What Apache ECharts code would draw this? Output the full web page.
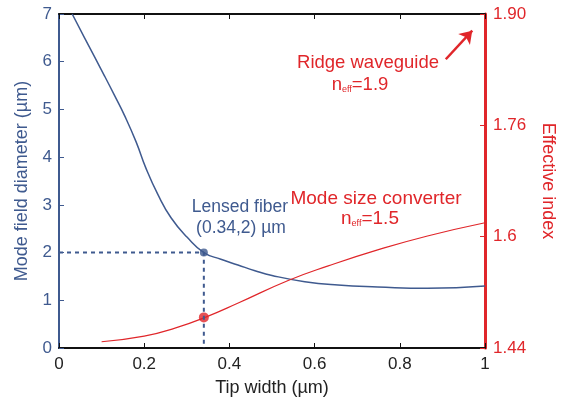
<!DOCTYPE html>
<html>
<head>
<meta charset="utf-8">
<script src="https://cdn.jsdelivr.net/npm/echarts@6/dist/echarts.min.js"></script>
<style>
    html, body {margin: 0; padding: 0; background: #fff;}
    #main {width: 565px; height: 402px;}
</style>
</head>
<body>
<div id="main"></div>
<script>
// mode field diameter (left axis, um) vs tip width (um)
var mfdX = [0.031, 0.06, 0.107, 0.13, 0.154, 0.181, 0.204, 0.232, 0.263, 0.301, 0.34, 0.38, 0.42, 0.46, 0.5, 0.577, 0.655, 0.748, 0.865, 1.0];
var mfdY = [7.0, 6.5, 5.70, 5.30, 4.87, 4.32, 3.77, 3.22, 2.73, 2.32, 2.0, 1.86, 1.74, 1.62, 1.52, 1.39, 1.32, 1.28, 1.25, 1.30];
// effective index (right axis) vs tip width
var neffX = [0.1, 0.2, 0.274, 0.343, 0.422, 0.538, 0.632, 0.748, 0.865, 1.0];
var neffY = [1.449, 1.457, 1.469, 1.484, 1.505, 1.537, 1.558, 1.581, 1.601, 1.62];
// lensed fiber point and converter point
var fiberPt = [0.34, 2];
var converterPt = [0.34, 1.484];
// arrow towards ridge waveguide index
var arrowFrom = [0.908, 1.855];
var arrowTo = [0.97, 1.896];
var rightTickLabels = ['1.44', '1.6', '1.76', '1.90'];

var BLUE = '#3f5a8f';
var RED = '#e0262a';
var FONT = 'Liberation Sans';

function pairs(xs, ys) {
    var out = [];
    for (var i = 0; i < xs.length; i++) {
        out.push([xs[i], ys[i]]);
    }
    return out;
}

var Chart = echarts.init(document.getElementById('main'));
var option = {
    backgroundColor: '#fff',
    animation: false,
    textStyle: {fontFamily: FONT},
    grid: {left: 59, right: 77, top: 14, bottom: 50},
    xAxis: [{
        type: 'value', min: 0, max: 1, interval: 0.2,
        name: 'Tip width (µm)', nameLocation: 'middle', nameGap: 31,
        nameTextStyle: {color: '#222', fontSize: 18, fontFamily: FONT},
        axisLine: {onZero: false, lineStyle: {color: '#111', width: 2}},
        axisTick: {inside: true, length: 5, lineStyle: {color: '#111'}},
        axisLabel: {color: '#222', fontSize: 17, margin: 8, fontFamily: FONT},
        splitLine: {show: false}
    }, {
        type: 'value', min: 0, max: 1, interval: 0.2, position: 'top',
        axisLine: {onZero: false, lineStyle: {color: '#111', width: 2}},
        axisTick: {inside: true, length: 5, lineStyle: {color: '#111'}},
        axisLabel: {show: false},
        splitLine: {show: false}
    }],
    yAxis: [{
        type: 'value', min: 0, max: 7, interval: 1,
        name: 'Mode field diameter (µm)', nameLocation: 'middle', nameGap: 28,
        nameTextStyle: {color: BLUE, fontSize: 18, fontFamily: FONT},
        axisLine: {show: true, onZero: false, lineStyle: {color: BLUE, width: 2}},
        axisTick: {show: true, inside: true, length: 5, lineStyle: {color: BLUE}},
        axisLabel: {color: BLUE, fontSize: 17, margin: 7, fontFamily: FONT},
        splitLine: {show: false}
    }, {
        type: 'value', min: 1.44, max: 1.92, interval: 0.16, position: 'right',
        name: 'Effective index', nameLocation: 'middle', nameGap: 54, nameRotate: -90,
        nameTextStyle: {color: RED, fontSize: 18, fontFamily: FONT},
        axisLine: {show: true, onZero: false, lineStyle: {color: RED, width: 3}},
        axisTick: {show: true, inside: true, length: 5, lineStyle: {color: RED}},
        axisLabel: {
            color: RED, fontSize: 17, margin: 8, fontFamily: FONT,
            formatter: function (v) {
                var i = Math.round((v - 1.44) / 0.16);
                return rightTickLabels[i];
            }
        },
        splitLine: {show: false}
    }],
    series: [{
        name: 'mfd', type: 'line', smooth: 0.5, showSymbol: false,
        data: pairs(mfdX, mfdY),
        lineStyle: {color: BLUE, width: 1.5}
    }, {
        name: 'neff', type: 'line', smooth: 0.5, showSymbol: false, yAxisIndex: 1,
        data: pairs(neffX, neffY),
        lineStyle: {color: RED, width: 1.2},
        markLine: {
            silent: true, symbol: ['none', 'arrow'], symbolSize: 12,
            label: {show: false},
            lineStyle: {color: RED, width: 2.5, type: 'solid'},
            data: [[{coord: arrowFrom}, {coord: arrowTo}]]
        }
    }, {
        name: 'guide', type: 'line', showSymbol: false,
        data: [[0, fiberPt[1]], fiberPt, [fiberPt[0], 0]],
        lineStyle: {color: BLUE, width: 2, type: [4, 4]}
    }, {
        name: 'fiber', type: 'scatter', symbolSize: 8,
        data: [fiberPt], itemStyle: {color: BLUE}
    }, {
        name: 'converter', type: 'scatter', symbolSize: 10, yAxisIndex: 1,
        data: [converterPt], itemStyle: {color: RED}
    }],
    graphic: [{
        type: 'text', x: 240, y: 207,
        style: {text: 'Lensed fiber', fill: BLUE, font: '17.5px ' + FONT, align: 'center', verticalAlign: 'middle'}
    }, {
        type: 'text', x: 241, y: 228,
        style: {text: '(0.34,2) µm', fill: BLUE, font: '17.5px ' + FONT, align: 'center', verticalAlign: 'middle'}
    }, {
        type: 'text', x: 376, y: 199,
        style: {text: 'Mode size converter', fill: RED, font: '19px ' + FONT, align: 'center', verticalAlign: 'middle'}
    }, {
        type: 'text', x: 370, y: 219,
        style: {
            text: 'n{s|eff}=1.5', fill: RED, font: '19px ' + FONT, align: 'center', verticalAlign: 'middle',
            rich: {s: {fontSize: 9, fill: RED, verticalAlign: 'bottom', padding: [7, 0, 0, 0]}}
        }
    }, {
        type: 'text', x: 368, y: 63,
        style: {text: 'Ridge waveguide', fill: RED, font: '18.5px ' + FONT, align: 'center', verticalAlign: 'middle'}
    }, {
        type: 'text', x: 360, y: 85,
        style: {
            text: 'n{s|eff}=1.9', fill: RED, font: '18.5px ' + FONT, align: 'center', verticalAlign: 'middle',
            rich: {s: {fontSize: 9, fill: RED, verticalAlign: 'bottom', padding: [7, 0, 0, 0]}}
        }
    }]
};
Chart.setOption(option);
</script>
</body>
</html>
